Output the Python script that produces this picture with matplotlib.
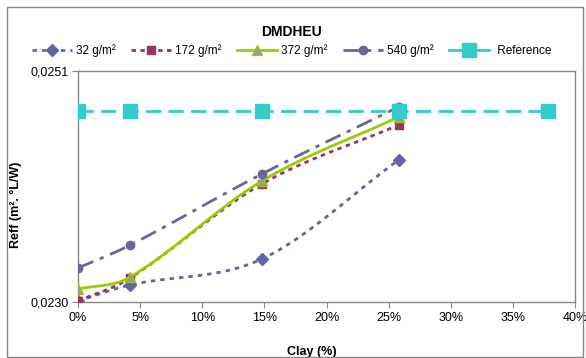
import matplotlib.pyplot as plt
import numpy as np
from matplotlib.lines import Line2D
from matplotlib.patches import Rectangle
from matplotlib.ticker import FuncFormatter

plt.rcParams['font.family'] = ['Liberation Sans', 'DejaVu Sans']

# data
clay = [0.0, 0.042, 0.148, 0.258]
clay_ref = [0.0, 0.042, 0.148, 0.258, 0.378]
reff_32 = [0.02301, 0.023155, 0.023391, 0.024291]
reff_172 = [0.02301, 0.023218, 0.024073, 0.024609]
reff_372 = [0.023118, 0.023227, 0.0241, 0.024682]
reff_540 = [0.023309, 0.023518, 0.024164, 0.024773]
reff_ref = [0.024736, 0.024736, 0.024736, 0.024736, 0.024736]
x_ticks = [0, 0.05, 0.10, 0.15, 0.20, 0.25, 0.30, 0.35, 0.40]
y_ticks = [0.0230, 0.0251]


def smooth(xs, ys, n=24):
    # smoothed line through the points (cubic hermite), for drawing only
    xs = np.asarray(xs, float)
    ys = np.asarray(ys, float)
    k = len(xs)
    m = np.zeros(k)
    for i in range(k):
        if i == 0:
            m[i] = (ys[1] - ys[0]) / (xs[1] - xs[0])
        elif i == k - 1:
            m[i] = (ys[-1] - ys[-2]) / (xs[-1] - xs[-2])
        else:
            m[i] = (ys[i + 1] - ys[i - 1]) / (xs[i + 1] - xs[i - 1])
    out_x, out_y = [], []
    t = np.linspace(0, 1, n)
    for i in range(k - 1):
        h = xs[i + 1] - xs[i]
        h00 = 2 * t ** 3 - 3 * t ** 2 + 1
        h10 = t ** 3 - 2 * t ** 2 + t
        h01 = -2 * t ** 3 + 3 * t ** 2
        h11 = t ** 3 - t ** 2
        out_x.extend(xs[i] + t * h)
        out_y.extend(h00 * ys[i] + h10 * h * m[i] + h01 * ys[i + 1] + h11 * h * m[i + 1])
    return np.array(out_x), np.array(out_y)


series = [
    (reff_32, '32 g/m²', '#6365A3', (0, (1.6, 1.8)), 'D', '#6365A3', '#6365A3', 6, 2),
    (reff_172, '172 g/m²', '#993366', (0, (1.6, 1.6)), 's', '#993366', '#993366', 6, 3),
    (reff_372, '372 g/m²', '#99CC00', '-', '^', '#999999', '#99CC00', 7, 4),
    (reff_540, '540 g/m²', '#666699', (0, (6, 2.5, 1.5, 2.5)), 'o', '#666699', '#666699', 6, 5),
]

fig = plt.figure(figsize=(5.86, 3.58), dpi=100)
ax = fig.add_axes([78 / 586, 1 - 302 / 358, (575 - 78) / 586, (302 - 71) / 358])

handles = []
for ys, lab, col, ls, mk, mfc, mec, ms, z in series:
    sx, sy = smooth(clay, ys)
    ax.plot(sx, sy, color=col, lw=2, linestyle=ls, zorder=z)
    ax.plot(clay, ys, linestyle='none', marker=mk, markersize=ms,
            markerfacecolor=mfc, markeredgecolor=mec, markeredgewidth=1, zorder=z)
    handles.append(Line2D([], [], color=col, lw=2, linestyle=ls, marker=mk,
                          markersize=ms, markerfacecolor=mfc, markeredgecolor=mec))

ax.plot(clay_ref, reff_ref, color='#33CCCC', lw=2, linestyle=(0, (5.5, 2.6)),
        marker='s', markersize=10, zorder=6)
handles.append(Line2D([], [], color='#33CCCC', lw=2, linestyle='-', marker='s', markersize=10))

ax.set_xlim(0, 0.40)
ax.set_ylim(0.0230, 0.0251)
ax.set_xticks(x_ticks)
ax.set_yticks(y_ticks)
ax.xaxis.set_major_formatter(FuncFormatter(lambda v, p: f'{v * 100:.0f}%'))
ax.yaxis.set_major_formatter(FuncFormatter(lambda v, p: f'{v:.4f}'.replace('.', ',')))
ax.tick_params(labelsize=9, length=4, color='#868686', direction='out', pad=3)
for s in ax.spines.values():
    s.set_color('#868686')
    s.set_linewidth(1)

ax.set_xlabel('Clay (%)', fontsize=9, fontweight='bold')
ax.set_ylabel('Reff (m². °L/W)', fontsize=9, fontweight='bold')
ax.xaxis.set_label_coords(0.47, -0.19)
ax.yaxis.set_label_coords(-0.113, 0.42)

fig.text(292 / 586, 1 - 32 / 358, 'DMDHEU', ha='center', va='center', fontsize=10, fontweight='bold')
fig.legend(handles=handles, labels=[s[1] for s in series] + [' Reference'],
           loc='center', bbox_to_anchor=(0.497, 1 - 51 / 358), ncol=5, frameon=False,
           fontsize=8.5, handlelength=3.4, handletextpad=0.35, columnspacing=1.3)

fig.patches.append(Rectangle((7 / 586, 1 / 358), 576 / 586, 350 / 358, transform=fig.transFigure,
                             fill=False, edgecolor='#868686', lw=1))

fig.savefig('out.png', dpi=100)
